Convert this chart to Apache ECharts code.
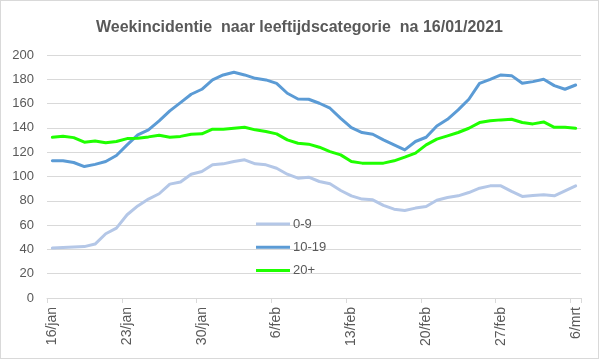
<!DOCTYPE html>
<html>
<head>
<meta charset="utf-8">
<script src="https://cdn.jsdelivr.net/npm/echarts@6/dist/echarts.min.js"></script>
<style>
html,body{margin:0;padding:0;background:#fff;}
#wrap{width:599px;height:359px;box-sizing:border-box;border:1px solid #D9D9D9;position:relative;}
#chart{position:absolute;left:-1px;top:-1px;width:599px;height:359px;}
</style>
</head>
<body>
<div id="wrap"><div id="chart"></div></div>
<script>
const categories = [
  "16/jan","17/jan","18/jan","19/jan","20/jan","21/jan","22/jan","23/jan","24/jan","25/jan",
  "26/jan","27/jan","28/jan","29/jan","30/jan","31/jan","1/feb","2/feb","3/feb","4/feb",
  "5/feb","6/feb","7/feb","8/feb","9/feb","10/feb","11/feb","12/feb","13/feb","14/feb",
  "15/feb","16/feb","17/feb","18/feb","19/feb","20/feb","21/feb","22/feb","23/feb","24/feb",
  "25/feb","26/feb","27/feb","28/feb","1/mrt","2/mrt","3/mrt","4/mrt","5/mrt","6/mrt"
];
const seriesNames = ["0-9", "10-19", "20+"];
const age0to9 = [
  41.1, 41.5, 42, 42.3, 44.4, 52.9, 57.5, 68.5, 75.8, 81.4,
  85.8, 93.7, 95.5, 101.9, 104.1, 109.6, 110.4, 112.3, 113.7, 110.4,
  109.6, 106.8, 101.9, 98.6, 99.4, 95.9, 94, 88.5, 84.1, 81.4,
  80.8, 76.2, 73.1, 72, 74, 75.3, 80.5, 82.7, 84.1, 86.8,
  90.4, 92.3, 92.3, 87.7, 83.6, 84.4, 85, 84.1, 88.2, 92.3
];
const age10to19 = [
  112.9, 113, 111.5, 108.2, 110, 112.3, 117.3, 126, 134.2, 138.4,
  145.8, 154, 160.8, 167.7, 171.8, 179.5, 183.6, 185.8, 183.6, 180.8,
  179.5, 176.7, 168.5, 163.8, 163.6, 160.3, 156.2, 147.9, 140.3, 136.2,
  134.8, 130.1, 126, 121.9, 128.8, 132.3, 141.5, 147.1, 154.8, 163.6,
  176.7, 180, 183.6, 183, 176.7, 178.1, 180, 174.8, 171.8, 175.3
];
const age20plus = [
  132.3, 133.1, 132, 128.2, 129.3, 127.7, 128.8, 131.2, 131.5, 132.6,
  134, 132.3, 133, 134.8, 135.1, 138.9, 138.9, 139.7, 140.5, 138.4,
  137, 135.1, 130.1, 127.4, 126.6, 124.1, 120.5, 117.8, 112.3, 111,
  111, 111, 112.9, 115.9, 119.2, 126, 130.8, 133.4, 136.2, 139.7,
  144.4, 145.8, 146.6, 147.1, 144.4, 143.3, 144.9, 140.5, 140.5, 139.7
];
const yTicks = { min: 0, max: 200, interval: 20 };
const titleText = "Weekincidentie  naar leeftijdscategorie  na 16/01/2021";
const colors = ["#B4C7E7", "#5B9BD5", "#1FFF00"];
const values = [age0to9, age10to19, age20plus];

const chart = echarts.init(document.getElementById('chart'), null, {renderer: 'canvas'});
const font = "'Liberation Sans', Arial, sans-serif";
chart.setOption({
  animation: false,
  backgroundColor: 'transparent',
  title: {
    text: titleText,
    left: 'center',
    top: 15,
    textStyle: { fontFamily: font, fontSize: 16, fontWeight: 'bold', color: '#595959' }
  },
  legend: {
    orient: 'vertical',
    left: 251,
    top: 212,
    icon: 'rect',
    itemWidth: 34,
    itemHeight: 3,
    itemGap: 9.3,
    data: seriesNames,
    textStyle: { fontFamily: font, fontSize: 13, lineHeight: 14, color: '#595959', padding: [0,0,0,-2] }
  },
  grid: { left: 47, right: 18, top: 55, bottom: 61, containLabel: false },
  xAxis: {
    type: 'category',
    data: categories,
    boundaryGap: true,
    axisLine: { show: true, lineStyle: { color: '#D9D9D9', width: 1 } },
    axisTick: { show: true, interval: 6, length: 5, lineStyle: { color: '#D9D9D9' } },
    axisLabel: { interval: 6, rotate: 90, margin: 9, fontFamily: font, fontSize: 14, color: '#595959' },
    splitLine: { show: false }
  },
  yAxis: {
    type: 'value',
    min: yTicks.min, max: yTicks.max, interval: yTicks.interval,
    axisLine: { show: false },
    axisTick: { show: false },
    axisLabel: { fontFamily: font, fontSize: 13, color: '#595959', margin: 13 },
    splitLine: { lineStyle: { color: '#D9D9D9', width: 1 } }
  },
  series: seriesNames.map((name, k) => ({
    name: name,
    type: 'line',
    data: values[k],
    symbol: 'none',
    showSymbol: false,
    smooth: false,
    color: colors[k],
    lineStyle: { color: colors[k], width: 3, cap: 'round', join: 'round' },
    z: 2 + k
  }))
});
</script>
</body>
</html>
